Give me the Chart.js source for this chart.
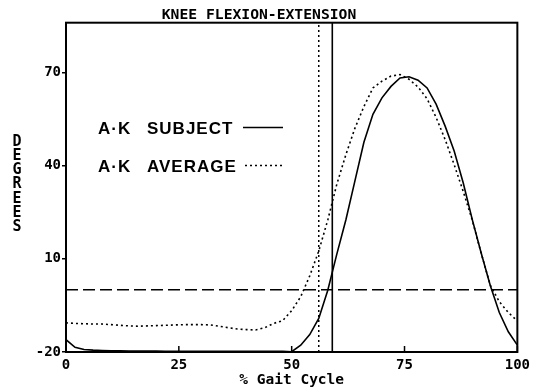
<!DOCTYPE html>
<html>
<head>
<meta charset="utf-8">
<title>Knee Flexion-Extension</title>
<script src="https://cdn.jsdelivr.net/npm/chart.js@4.4.1/dist/chart.umd.min.js"></script>
<style>
  html, body { margin: 0; padding: 0; background: #fff; }
  .chart-container { width: 535px; height: 392px; }
</style>
</head>
<body>
<div class="chart-container">
  <canvas id="kneeChart"></canvas>
</div>
<script>
  // % gait cycle, sampled every 2%
  const gaitPct = [0, 2, 4, 6, 8, 10, 12, 14, 16, 18, 20, 22, 24, 26, 28, 30, 32, 34, 36, 38, 40,
    42, 44, 46, 48, 50, 52, 54, 56, 58, 60, 62, 64, 66, 68, 70, 72, 74, 76, 78, 80,
    82, 84, 86, 88, 90, 92, 94, 96, 98, 100];

  // A.K subject (solid)
  const subjectKnee = [-16, -18.5, -19.2, -19.4, -19.5, -19.6, -19.6, -19.7, -19.7, -19.7, -19.7,
    -19.8, -19.8, -19.8, -19.8, -19.8, -19.8, -19.8, -19.8, -19.8, -19.8,
    -19.8, -19.8, -19.8, -19.8, -19.9, -17.8, -14.4, -9.2, -0.1, 11.5,
    22.5, 35, 47.5, 56.5, 61.8, 65.5, 68.2, 68.6, 67.5, 65,
    59.8, 52.7, 44.7, 34.5, 22.7, 11.8, 1.4, -7.3, -13.5, -17.8];

  // A.K average (dotted)
  const averageKnee = [-10.6, -10.8, -10.9, -11, -11, -11.2, -11.4, -11.6, -11.7, -11.6, -11.5,
    -11.4, -11.3, -11.2, -11.2, -11.2, -11.3, -11.7, -12.2, -12.6, -12.8,
    -12.9, -12.2, -10.8, -9.9, -6.7, -2.2, 4.5, 12.5, 22.5, 34,
    43.5, 52, 59, 65, 67.2, 68.8, 69.3, 67.8, 65.3, 61.5,
    55.5, 48.4, 40.3, 31.7, 22.5, 11.7, 1.5, -3.8, -7.3, -10];

  // toe-off markers and reference line
  const toeOffSubject = 59;
  const toeOffAverage = 56;
  const zeroLine = 0;

  const xTicks = [0, 25, 50, 75, 100];
  const yTicks = [-20, 10, 40, 70];
  const yMin = -20;
  const yMax = 86;

  const plotter = "'DejaVu Sans Mono', monospace";

  const toPoints = (xs, ys) => xs.map((x, i) => ({ x: x, y: ys[i] }));

  const framePlugin = {
    id: "frame",
    afterDraw(chart) {
      const ctx = chart.ctx;
      const a = chart.chartArea;
      const xs = chart.scales.x;
      ctx.save();
      ctx.strokeStyle = "#000";
      ctx.lineWidth = 2;
      ctx.strokeRect(a.left, a.top, a.right - a.left, a.bottom - a.top);

      // x ticks point up into the plot
      ctx.lineWidth = 1.5;
      xTicks.forEach((v) => {
        const px = xs.getPixelForValue(v);
        ctx.beginPath();
        ctx.moveTo(px, a.bottom);
        ctx.lineTo(px, a.bottom - 6);
        ctx.stroke();
      });

      // stacked y label
      ctx.fillStyle = "#000";
      ctx.font = "bold 15px " + plotter;
      ctx.textAlign = "center";
      ctx.textBaseline = "middle";
      "DEGREES".split("").forEach((ch, i) => {
        ctx.fillText(ch, 17, 142 + i * 14.2);
      });

      // legend
      ctx.font = "bold 17px 'Liberation Sans', Arial, sans-serif";
      ctx.letterSpacing = "1px";
      ctx.textAlign = "left";
      ctx.textBaseline = "alphabetic";
      ctx.fillText("A\u00B7K", 98, 134);
      ctx.fillText("SUBJECT", 147, 134);
      ctx.fillText("A\u00B7K", 98, 172);
      ctx.fillText("AVERAGE", 147, 172);
      ctx.letterSpacing = "0px";

      ctx.lineWidth = 1.5;
      ctx.beginPath();
      ctx.moveTo(243, 127.5);
      ctx.lineTo(283, 127.5);
      ctx.stroke();
      ctx.setLineDash([2, 3]);
      ctx.beginPath();
      ctx.moveTo(245, 165.5);
      ctx.lineTo(284, 165.5);
      ctx.stroke();
      ctx.restore();
    },
  };

  const ctx = document.getElementById("kneeChart").getContext("2d");

  const kneeChart = new Chart(ctx, {
    type: "line",
    data: {
      datasets: [
        {
          label: "A\u00B7K SUBJECT",
          data: toPoints(gaitPct, subjectKnee),
          borderColor: "#000",
          borderWidth: 1.6,
          pointRadius: 0,
          tension: 0,
        },
        {
          label: "A\u00B7K AVERAGE",
          data: toPoints(gaitPct, averageKnee),
          borderColor: "#000",
          borderWidth: 1.6,
          borderDash: [2, 3],
          pointRadius: 0,
          tension: 0,
        },
        {
          label: "subject toe-off",
          data: [{ x: toeOffSubject, y: yMin }, { x: toeOffSubject, y: yMax }],
          borderColor: "#000",
          borderWidth: 1.6,
          pointRadius: 0,
        },
        {
          label: "average toe-off",
          data: [{ x: toeOffAverage, y: yMin }, { x: toeOffAverage, y: yMax }],
          borderColor: "#000",
          borderWidth: 1.5,
          borderDash: [2, 3],
          pointRadius: 0,
        },
        {
          label: "zero",
          data: [{ x: 0, y: zeroLine }, { x: 100, y: zeroLine }],
          borderColor: "#000",
          borderWidth: 1.5,
          borderDash: [12, 5],
          pointRadius: 0,
        },
      ],
    },
    options: {
      responsive: true,
      maintainAspectRatio: false,
      animation: false,
      layout: { padding: { left: 0, right: 17, top: 0, bottom: 0 } },
      plugins: {
        legend: { display: false },
        tooltip: { enabled: false },
        title: {
          display: true,
          text: "KNEE FLEXION-EXTENSION",
          color: "#000",
          font: { family: plotter, size: 14.7, lineHeight: 1 },
          padding: { top: 8, bottom: 0 },
        },
      },
      scales: {
        x: {
          type: "linear",
          min: 0,
          max: 100,
          afterBuildTicks: (scale) => {
            scale.ticks = xTicks.map((v) => ({ value: v }));
          },
          afterFit: (scale) => {
            scale.height = 40;
          },
          grid: { display: false, drawTicks: false },
          border: { display: false },
          ticks: {
            color: "#000",
            padding: 5,
            maxRotation: 0,
            font: { family: plotter, size: 14, weight: "bold" },
          },
          title: {
            display: true,
            text: "% Gait Cycle",
            color: "#000",
            padding: { top: 0, bottom: 3 },
            font: { family: plotter, size: 14.5, weight: "bold" },
          },
        },
        y: {
          min: yMin,
          max: yMax,
          afterBuildTicks: (scale) => {
            scale.ticks = yTicks.map((v) => ({ value: v }));
          },
          afterFit: (scale) => {
            scale.width = 66;
          },
          grid: {
            drawOnChartArea: false,
            drawTicks: true,
            tickLength: 4,
            color: "#000",
            lineWidth: 1.5,
          },
          border: { display: false },
          ticks: {
            color: "#000",
            padding: 1,
            font: { family: plotter, size: 14, weight: "bold" },
          },
        },
      },
    },
    plugins: [framePlugin],
  });
</script>
</body>
</html>
